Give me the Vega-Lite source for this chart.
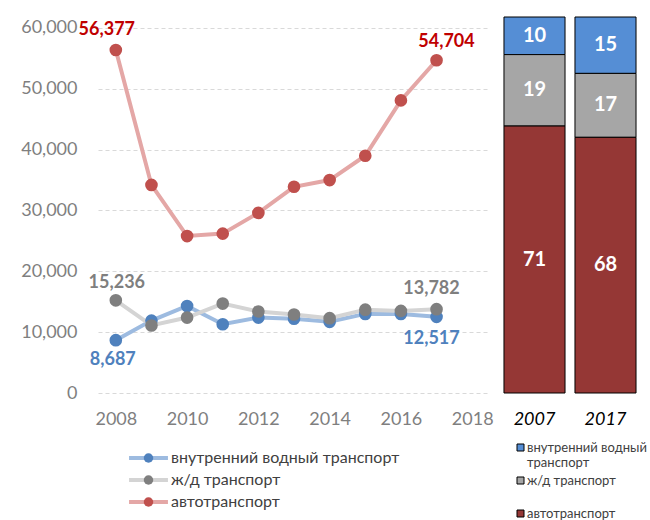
{
  "$schema": "https://vega.github.io/schema/vega-lite/v6.json",
  "padding": {"left": 20, "top": 16, "right": 0, "bottom": 0},
  "background": "white",
  "bounds": "flush",
  "spacing": 10,
  "config": {"view": {"stroke": null}, "font": "Lato, Open Sans, sans-serif"},
  "datasets": {
    "lines": [
      {"series": "внутренний водный транспорт", "year": 2008, "value": 8687},
      {"series": "внутренний водный транспорт", "year": 2009, "value": 11900},
      {"series": "внутренний водный транспорт", "year": 2010, "value": 14300},
      {"series": "внутренний водный транспорт", "year": 2011, "value": 11300},
      {"series": "внутренний водный транспорт", "year": 2012, "value": 12400},
      {"series": "внутренний водный транспорт", "year": 2013, "value": 12200},
      {"series": "внутренний водный транспорт", "year": 2014, "value": 11700},
      {"series": "внутренний водный транспорт", "year": 2015, "value": 13000},
      {"series": "внутренний водный транспорт", "year": 2016, "value": 13000},
      {"series": "внутренний водный транспорт", "year": 2017, "value": 12517},
      {"series": "ж/д транспорт", "year": 2008, "value": 15236},
      {"series": "ж/д транспорт", "year": 2009, "value": 11100},
      {"series": "ж/д транспорт", "year": 2010, "value": 12400},
      {"series": "ж/д транспорт", "year": 2011, "value": 14700},
      {"series": "ж/д транспорт", "year": 2012, "value": 13400},
      {"series": "ж/д транспорт", "year": 2013, "value": 12900},
      {"series": "ж/д транспорт", "year": 2014, "value": 12300},
      {"series": "ж/д транспорт", "year": 2015, "value": 13700},
      {"series": "ж/д транспорт", "year": 2016, "value": 13500},
      {"series": "ж/д транспорт", "year": 2017, "value": 13782},
      {"series": "автотранспорт", "year": 2008, "value": 56377},
      {"series": "автотранспорт", "year": 2009, "value": 34200},
      {"series": "автотранспорт", "year": 2010, "value": 25800},
      {"series": "автотранспорт", "year": 2011, "value": 26200},
      {"series": "автотранспорт", "year": 2012, "value": 29600},
      {"series": "автотранспорт", "year": 2013, "value": 33900},
      {"series": "автотранспорт", "year": 2014, "value": 35000},
      {"series": "автотранспорт", "year": 2015, "value": 39000},
      {"series": "автотранспорт", "year": 2016, "value": 48100},
      {"series": "автотранспорт", "year": 2017, "value": 54704}
    ],
    "shares": [
      {"year": "2007", "series": "внутренний водный транспорт", "share": 10},
      {"year": "2007", "series": "ж/д транспорт", "share": 19},
      {"year": "2007", "series": "автотранспорт", "share": 71},
      {"year": "2017", "series": "внутренний водный транспорт", "share": 15},
      {"year": "2017", "series": "ж/д транспорт", "share": 17},
      {"year": "2017", "series": "автотранспорт", "share": 68}
    ]
  },
  "hconcat": [
    {
      "width": 392,
      "height": 376,
      "data": {"name": "lines"},
      "encoding": {
        "x": {"field": "year", "type": "quantitative",
          "scale": {"domain": [2007.5, 2018.5], "nice": false, "zero": false},
          "axis": {"values": [2008, 2010, 2012, 2014, 2016, 2018], "format": "d", "title": null, "grid": false, "domain": false, "ticks": false, "labelFlush": false, "labelFontSize": 18, "labelColor": "#7f7f7f", "labelPadding": 17}},
        "y": {"field": "value", "type": "quantitative",
          "scale": {"domain": [0, 61808], "nice": false},
          "axis": {"values": [0, 10000, 20000, 30000, 40000, 50000, 60000], "format": ",d", "title": null, "domain": false, "ticks": false, "labelFontSize": 18, "labelColor": "#7f7f7f", "labelPadding": 21, "gridColor": "#d9d9d9", "gridDash": [4, 3], "gridWidth": 1}}
      },
      "layer": [
        {
          "mark": {"type": "line", "strokeWidth": 4},
          "encoding": {
            "stroke": {"field": "series", "type": "nominal",
              "scale": {"domain": ["внутренний водный транспорт", "ж/д транспорт", "автотранспорт"], "range": ["#9dbbe0", "#d4d4d4", "#e4a7a6"]},
              "legend": {"orient": "none", "legendX": 42.5, "legendY": 433, "title": null, "padding": 0, "symbolType": "M-4.1,0L4.1,0", "symbolSize": 90, "symbolStrokeWidth": 4, "labelFontSize": 16, "labelLimit": 400, "labelColor": "#404040", "labelOffset": 14.5, "rowPadding": 6, "zindex": 1}}
          }
        },
        {
          "mark": {"type": "point", "filled": true, "size": 160, "opacity": 1},
          "encoding": {
            "fill": {"field": "series", "type": "nominal",
              "sort": ["внутренний водный транспорт", "ж/д транспорт", "автотранспорт"],
              "scale": {"range": ["#4f81bd", "#7f7f7f", "#c0504d"]},
              "legend": {"orient": "none", "legendX": 42.5, "legendY": 433, "title": null, "padding": 0, "symbolType": "circle", "symbolSize": 90, "symbolStrokeWidth": 4, "symbolStrokeColor": "transparent", "labelFontSize": 16, "labelLimit": 400, "labelOpacity": 0, "labelOffset": 14.5, "rowPadding": -4, "zindex": 2}}
          }
        },
        {
          "transform": [{"filter": "datum.series == 'автотранспорт' && datum.year == 2008"}],
          "mark": {"type": "text", "fontSize": 18, "fontWeight": "bold", "color": "#c00000", "dx": -9, "dy": -20, "baseline": "middle"},
          "encoding": {"text": {"field": "value", "type": "quantitative", "format": ","}}
        },
        {
          "transform": [{"filter": "datum.series == 'автотранспорт' && datum.year == 2017"}],
          "mark": {"type": "text", "fontSize": 18, "fontWeight": "bold", "color": "#c00000", "dx": 10, "dy": -18, "baseline": "middle"},
          "encoding": {"text": {"field": "value", "type": "quantitative", "format": ","}}
        },
        {
          "transform": [{"filter": "datum.series == 'ж/д транспорт' && datum.year == 2008"}],
          "mark": {"type": "text", "fontSize": 18, "fontWeight": "bold", "color": "#7f7f7f", "dx": 1, "dy": -17, "baseline": "middle"},
          "encoding": {"text": {"field": "value", "type": "quantitative", "format": ","}}
        },
        {
          "transform": [{"filter": "datum.series == 'ж/д транспорт' && datum.year == 2017"}],
          "mark": {"type": "text", "fontSize": 18, "fontWeight": "bold", "color": "#7f7f7f", "dx": -5, "dy": -20, "baseline": "middle"},
          "encoding": {"text": {"field": "value", "type": "quantitative", "format": ","}}
        },
        {
          "transform": [{"filter": "datum.series == 'внутренний водный транспорт' && datum.year == 2008"}],
          "mark": {"type": "text", "fontSize": 18, "fontWeight": "bold", "color": "#4f81bd", "dx": -3, "dy": 20, "baseline": "middle"},
          "encoding": {"text": {"field": "value", "type": "quantitative", "format": ","}}
        },
        {
          "transform": [{"filter": "datum.series == 'внутренний водный транспорт' && datum.year == 2017"}],
          "mark": {"type": "text", "fontSize": 18, "fontWeight": "bold", "color": "#4f81bd", "dx": -5, "dy": 22, "baseline": "middle"},
          "encoding": {"text": {"field": "value", "type": "quantitative", "format": ","}}
        }
      ]
    },
    {
      "width": 140,
      "height": 376,
      "data": {"name": "shares"},
      "encoding": {
        "x": {"field": "year", "type": "nominal",
          "scale": {"paddingInner": 0.14, "paddingOuter": 0.056},
          "axis": {"title": null, "labelAngle": 0, "domain": false, "ticks": false, "labelFontSize": 18, "labelFontStyle": "italic", "labelColor": "black", "labelPadding": 17}},
        "y": {"field": "share", "type": "quantitative", "stack": "zero", "scale": {"domain": [0, 100], "nice": false}, "axis": null},
        "order": {"field": "share", "type": "quantitative", "sort": "descending"}
      },
      "layer": [
        {
          "mark": {"type": "bar", "stroke": "black", "strokeWidth": 1},
          "encoding": {
            "color": {"field": "series", "type": "nominal",
              "sort": ["внутренний водный транспорт", "ж/д транспорт", "автотранспорт"],
              "scale": {"range": ["#558ed5", "#a6a6a6", "#953735"]},
              "legend": {"orient": "none", "legendX": 14, "legendY": 424, "title": null, "padding": 0, "symbolType": "square", "symbolSize": 49, "symbolStrokeColor": "black", "symbolStrokeWidth": 1, "labelFontSize": 13, "labelLineHeight": 17, "labelColor": "#404040", "labelOffset": 0, "rowPadding": 4,
                "labelExpr": "datum.label == 'внутренний водный транспорт' ? ['внутренний водный', 'транспорт'] : [datum.label, '']"}}
          }
        },
        {
          "mark": {"type": "text", "fontSize": 20, "fontWeight": "bold", "baseline": "middle"},
          "encoding": {
            "y": {"field": "share", "type": "quantitative", "stack": "zero", "bandPosition": 0.5},
            "color": {"field": "series", "type": "nominal",
              "sort": ["внутренний водный транспорт", "ж/д транспорт", "автотранспорт"],
              "scale": {"range": ["white", "white", "white"]}, "legend": null},
            "text": {"field": "share", "type": "quantitative"}
          }
        }
      ],
      "resolve": {"scale": {"color": "independent"}}
    }
  ]
}
